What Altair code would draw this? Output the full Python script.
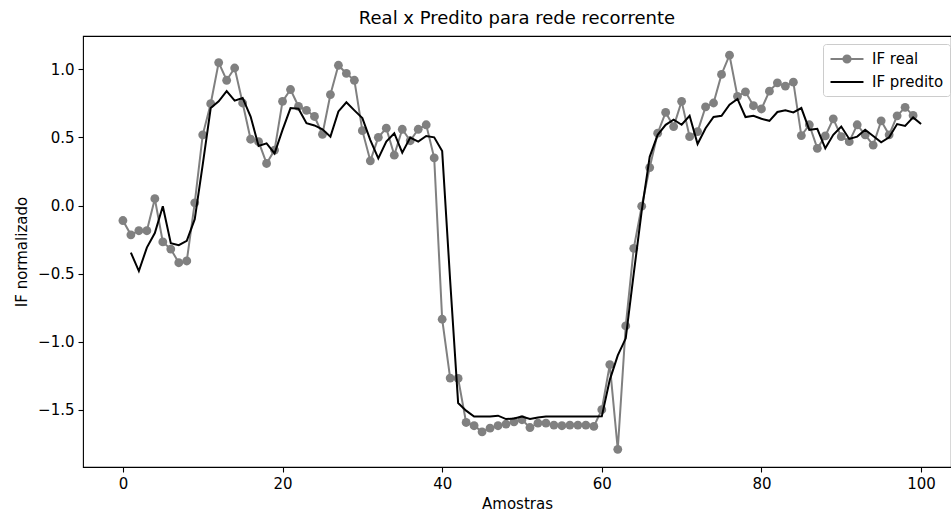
import altair as alt
import pandas as pd

real_x = list(range(0, 100))
real_y = [-0.11, -0.215, -0.185, -0.185, 0.05, -0.267, -0.32, -0.42, -0.407, 0.02,
          0.519, 0.748, 1.05, 0.92, 1.01, 0.753, 0.487, 0.469, 0.309, 0.407,
          0.765, 0.852, 0.728, 0.699, 0.654, 0.523, 0.815, 1.03, 0.97, 0.92,
          0.55, 0.328, 0.501, 0.568, 0.37, 0.56, 0.476, 0.56, 0.593, 0.35,
          -0.835, -1.267, -1.27, -1.593, -1.617, -1.662, -1.635, -1.617, -1.605, -1.588,
          -1.573, -1.63, -1.598, -1.598, -1.612, -1.617, -1.612, -1.612, -1.612, -1.622,
          -1.499, -1.168, -1.79, -0.884, -0.314, -0.005, 0.279, 0.531, 0.684, 0.58,
          0.765, 0.506, 0.543, 0.724, 0.753, 0.963, 1.104, 0.802, 0.835, 0.733,
          0.709, 0.84, 0.901, 0.877, 0.906, 0.514, 0.593, 0.42, 0.511, 0.637,
          0.506, 0.469, 0.593, 0.519, 0.444, 0.622, 0.519, 0.659, 0.721, 0.662]

pred_x = list(range(1, 101))
pred_y = [-0.346, -0.481, -0.309, -0.202, -0.005, -0.277, -0.291, -0.259, -0.1, 0.3,
          0.716, 0.765, 0.84, 0.77, 0.79, 0.654, 0.437, 0.457, 0.383, 0.556,
          0.716, 0.711, 0.605, 0.588, 0.56, 0.506, 0.691, 0.758, 0.699, 0.642,
          0.481, 0.346, 0.469, 0.531, 0.388, 0.499, 0.469, 0.511, 0.501, 0.4,
          -0.55, -1.45, -1.506, -1.55, -1.55, -1.55, -1.543, -1.568, -1.563, -1.55,
          -1.568, -1.556, -1.55, -1.55, -1.55, -1.55, -1.55, -1.55, -1.55, -1.548,
          -1.28, -1.1, -0.975, -0.5, -0.04, 0.358, 0.519, 0.593, 0.63, 0.593,
          0.659, 0.452, 0.568, 0.65, 0.659, 0.741, 0.783, 0.65, 0.659, 0.637,
          0.622, 0.687, 0.699, 0.684, 0.716, 0.556, 0.563, 0.42, 0.519, 0.58,
          0.489, 0.506, 0.556, 0.511, 0.464, 0.501, 0.598, 0.585, 0.647, 0.598]

series_names = ["IF real", "IF predito"]
series_colors = ["#808080", "#000000"]
x_ticks = [0, 20, 40, 60, 80, 100]
y_ticks = [-1.5, -1.0, -0.5, 0.0, 0.5, 1.0]

df = pd.concat([
    pd.DataFrame({"x": real_x, "y": real_y, "s": series_names[0]}),
    pd.DataFrame({"x": pred_x, "y": pred_y, "s": series_names[1]}),
], ignore_index=True)

FONT = "DejaVu Sans"

xenc = alt.X("x:Q", scale=alt.Scale(domain=[-5, 103.75], nice=False, zero=False),
             axis=alt.Axis(values=x_ticks, format="d", title="Amostras",
                           labelPadding=4, titlePadding=5))
yenc = alt.Y("y:Q", scale=alt.Scale(domain=[-1.92, 1.245], nice=False, zero=False),
             axis=alt.Axis(values=y_ticks, format=".1f", title="IF normalizado",
                           labelPadding=4, titlePadding=8))

base = alt.Chart(df).encode(x=xenc, y=yenc)

real_line = base.transform_filter(alt.datum.s == series_names[0]).mark_line(
    strokeWidth=2, color=series_colors[0])
real_pts = base.transform_filter(alt.datum.s == series_names[0]).mark_point(
    filled=True, size=78, opacity=1, shape="circle", color=series_colors[0])
pred_line = base.transform_filter(alt.datum.s == series_names[1]).mark_line(
    strokeWidth=2, color=series_colors[1])

path_real = "M-2.06,0H2.06M-0.45,0A0.45,0.45,0,1,0,0.45,0A0.45,0.45,0,1,0,-0.45,0Z"
path_pred = "M-2.06,0H2.06"

leg = dict(title=None, orient="none", legendX=740, legendY=8, padding=6,
           symbolSize=256, symbolOffset=9, labelOffset=16, rowPadding=6,
           labelFont=FONT, labelFontSize=15, labelColor="black",
           strokeColor="#cccccc", fillColor="white", cornerRadius=3,
           symbolStrokeWidth=2, symbolOpacity=1)

legend_layer = base.mark_point(filled=True, strokeWidth=2, opacity=0).encode(
    color=alt.Color("s:N", scale=alt.Scale(domain=series_names, range=series_colors), legend=alt.Legend(**leg)),
    stroke=alt.Stroke("s:N", scale=alt.Scale(domain=series_names, range=series_colors), legend=alt.Legend(**leg)),
    shape=alt.Shape("s:N", scale=alt.Scale(domain=series_names, range=[path_real, path_pred]), legend=alt.Legend(**leg)),
)

chart = alt.layer(real_line, real_pts, pred_line, legend_layer).properties(
    width=951, height=511,
    autosize=alt.AutoSizeParams(type="fit", contains="padding"),
    padding={"left": 14, "top": 10, "right": 0, "bottom": 0},
    background="white",
    title=alt.TitleParams("Real x Predito para rede recorrente", font=FONT, fontSize=18,
                          fontWeight="normal", anchor="middle", offset=8, color="black"),
).configure_view(stroke="black", strokeWidth=1.1).configure_axis(
    grid=False, domain=False, tickColor="black", tickSize=5, tickWidth=1.1,
    labelColor="black", titleColor="black", labelFont=FONT, titleFont=FONT,
    labelFontSize=15, titleFontSize=15, titleFontWeight="normal",
)

chart.save("out.html", embed_options={"renderer": "svg", "actions": False})
